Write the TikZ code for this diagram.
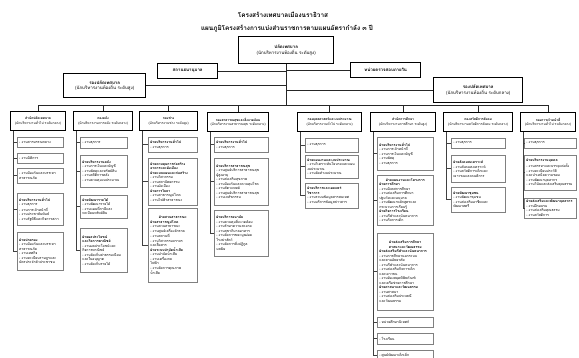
\documentclass[tikz,border=0pt]{standalone}
\usepackage{fontspec}
\setmainfont{Loma}[Script=Thai]
\usetikzlibrary{shadows}
\tikzset{
  x=1pt, y=-1pt,
  conn/.style={draw=black!85, line width=0.65pt},
  tick/.style={draw=black!75, line width=0.5pt},
  big/.style={draw=black, line width=1.4pt, fill=white, align=center, inner sep=0.5pt, anchor=north west, font=\fontsize{4.4}{5.6}\selectfont},
  dept/.style={draw=black, line width=1.2pt, fill=white, align=center, inner sep=0.3pt, anchor=north west, minimum height=19pt, font=\fontsize{3.3}{4.4}\selectfont},
  sub/.style={draw=black!50, line width=0.5pt, fill=white, align=left, inner xsep=2pt, inner ysep=0.8pt, anchor=north west, font=\fontsize{3.5}{4.5}\selectfont, drop shadow={shadow xshift=0.8pt, shadow yshift=-0.8pt, fill=black!30, opacity=0.6}},
  wa/.style={text width=42pt},
  wb/.style={text width=43pt},
  wc/.style={text width=45pt},
  wd/.style={text width=50pt},
  we/.style={text width=49pt},
  wf/.style={text width=52pt},
  wg/.style={text width=50pt},
  wh/.style={text width=48pt},
}
\begin{document}
\begin{tikzpicture}
\useasboundingbox[fill=white] (0,0) rectangle (579,358);

% titles
\node[font=\fontsize{6.4}{7}\selectfont\bfseries] (t1) at (283,15) {โครงสร้างเทศบาลเมืองนราธิวาส};
\node[font=\fontsize{6.4}{7}\selectfont\bfseries] (t2) at (287,29) {แผนภูมิโครงสร้างการแบ่งส่วนราชการตามแผนอัตรากำลัง ๓ ปี};

% upper boxes
\node[big, minimum width=95pt, minimum height=27pt] (top) at (238,36) {\textbf{ปลัดเทศบาล}\\(นักบริหารงานท้องถิ่น ระดับสูง)};
\node[big, minimum width=60pt, minimum height=15pt] (pawn) at (157,63) {\textbf{สถานธนานุบาล}};
\node[big, minimum width=70pt, minimum height=15pt] (audit) at (350,62) {\textbf{หน่วยตรวจสอบภายใน}};
\node[big, minimum width=82pt, minimum height=24pt] (dep1) at (63,73) {\textbf{รองปลัดเทศบาล}\\(นักบริหารงานท้องถิ่น ระดับสูง)};
\node[big, minimum width=89pt, minimum height=25pt] (dep2) at (433,77) {\textbf{รองปลัดเทศบาล}\\(นักบริหารงานท้องถิ่น ระดับกลาง)};

% departments
\node[dept, minimum width=55pt] (d1) at (10,111) {\textbf{สำนักปลัดเทศบาล}\\(นักบริหารงานทั่วไป ระดับกลาง)};
\node[dept, minimum width=59pt] (d2) at (73,111) {\textbf{กองคลัง}\\(นักบริหารงานการคลัง ระดับกลาง)};
\node[dept, minimum width=58pt] (d3) at (139,111) {\textbf{กองช่าง}\\(นักบริหารงานช่าง ระดับสูง)};
\node[dept, minimum width=61pt] (d4) at (207,112) {\textbf{กองสาธารณสุขและสิ่งแวดล้อม}\\(นักบริหารงานสาธารณสุข ระดับกลาง)};
\node[dept, minimum width=64pt] (d5) at (297,112) {\textbf{กองยุทธศาสตร์และงบประมาณ}\\(นักบริหารงานทั่วไป ระดับกลาง)};
\node[dept, minimum width=65pt] (d6) at (370,112) {\textbf{สำนักการศึกษา}\\(นักบริหารงานการศึกษา ระดับสูง)};
\node[dept, minimum width=69pt] (d7) at (443,112) {\textbf{กองสวัสดิการสังคม}\\(นักบริหารงานสวัสดิการสังคม ระดับกลาง)};
\node[dept, minimum width=55pt] (d8) at (520,112) {\textbf{กองการเจ้าหน้าที่}\\(นักบริหารงานทั่วไป ระดับกลาง)};

% upper connectors
\coordinate (busy) at (0,105);
\draw[conn] (top.south) -- (top.south |- busy);
\draw[conn] (pawn.east) -- (pawn.east -| top.south);
\draw[conn] (audit.west) -- (audit.west -| top.south);
\draw[conn] (dep1.east) -- (dep1.east -| top.south);
\draw[conn] (dep2.west) -- (dep2.west -| top.south);
\draw[conn] (d1.north |- busy) -- (d8.north |- busy);
\foreach \d in {d1,d2,d3,d4,d5,d6,d7,d8}{
  \draw[conn] (\d.north) -- (\d.north |- busy);
}

% column 1
\node[sub, wa, minimum height=10pt] (c1a) at (17,137) {- งานสารบรรณกลาง};
\node[sub, wa, minimum height=10pt] (c1b) at (17,153) {- งานนิติการ};
\node[sub, wa, minimum height=15pt] (c1c) at (17,168) {- งานป้องกันและบรรเทา\\สาธารณภัย};
\node[sub, wa, minimum height=32pt] (c1d) at (17,193) {\textbf{ฝ่ายบริหารงานทั่วไป}\\- งานธุรการ\\- งานการเจ้าหน้าที่\\- งานประชาสัมพันธ์\\- งานรัฐพิธีและกิจการสภา};
\node[sub, wa, minimum height=38pt] (c1e) at (17,232) {\textbf{ฝ่ายปกครอง}\\- งานป้องกันและบรรเทา\\สาธารณภัย\\- งานเทศกิจ\\- งานทะเบียนราษฎรและ\\บัตรประจำตัวประชาชน};

% column 2
\node[sub, wb, minimum height=11pt] (c2a) at (80,137) {- งานธุรการ};
\node[sub, wb, minimum height=32pt] (c2b) at (80,155) {\textbf{ฝ่ายบริหารงานคลัง}\\- งานการเงินและบัญชี\\- งานพัสดุและทรัพย์สิน\\- งานสถิติการคลัง\\- งานควบคุมงบประมาณ};
\node[sub, wb, minimum height=23pt] (c2c) at (80,195) {\textbf{ฝ่ายพัฒนารายได้}\\- งานพัฒนารายได้\\- งานแผนที่ภาษีและ\\ทะเบียนทรัพย์สิน};
\node[sub, wb, minimum height=44pt] (c2d) at (80,228) {\textbf{ฝ่ายผลประโยชน์}\\\textbf{และกิจการพาณิชย์}\\- งานผลประโยชน์และ\\กิจการพาณิชย์\\- งานจัดเก็บค่าธรรมเนียม\\และใบอนุญาต\\- งานจัดเก็บรายได้};

% column 3
\node[sub, wc, minimum height=15pt] (c3a) at (148,137) {\textbf{ฝ่ายบริหารงานทั่วไป}\\- งานธุรการ};
\node[sub, wc, minimum height=47pt] (c3b) at (148,158) {\textbf{ฝ่ายควบคุมการก่อสร้าง}\\\textbf{อาคารและผังเมือง}\\\textbf{ฝ่ายแบบแผนและก่อสร้าง}\\- งานวิศวกรรม\\- งานสถาปัตยกรรม\\- งานผังเมือง\\\textbf{ฝ่ายการโยธา}\\- งานสาธารณูปโภค\\- งานไฟฟ้าสาธารณะ};
\node[sub, wc, minimum height=74pt] (c3c) at (148,208) {\centering\textbf{ฝ่ายสวนสาธารณะ}\\\raggedright\textbf{ฝ่ายสาธารณูปโภค}\\- งานสวนสาธารณะ\\- งานศูนย์เครื่องจักรกล\\- งานสถานที่\\- งานวิศวกรรมจราจร\\และสื่อสาร\\\textbf{ฝ่ายระบบบำบัดน้ำเสีย}\\- งานบำบัดน้ำเสีย\\- งานเครื่องกล\\ไฟฟ้า\\- งานจัดการคุณภาพ\\น้ำเสีย};

% column 4
\node[sub, wd, minimum height=15pt] (c4a) at (214,137) {\textbf{ฝ่ายบริหารงานทั่วไป}\\- งานธุรการ};
\node[sub, wd, minimum height=47pt] (c4b) at (214,158) {\textbf{ฝ่ายบริการสาธารณสุข}\\- งานศูนย์บริการสาธารณสุข\\ผู้สูงอายุ\\- งานส่งเสริมสุขภาพ\\- งานป้องกันและควบคุมโรค\\- งานสัตวแพทย์\\- งานศูนย์บริการสาธารณสุข\\- งานเภสัชกรรม};
\node[sub, wd, minimum height=46pt] (c4c) at (214,210) {\textbf{ฝ่ายบริการอนามัย}\\- งานควบคุมสิ่งแวดล้อม\\- งานรักษาความสะอาด\\- งานสุขาภิบาลอาหาร\\- งานจัดการขยะมูลฝอย\\โรงฆ่าสัตว์\\- งานจัดการสิ่งปฏิกูล\\มลพิษ};

% column 5
\node[sub, we, minimum height=14pt] (c5a) at (305,138) {- งานธุรการ};
\node[sub, we, minimum height=23pt] (c5b) at (305,155) {\textbf{ฝ่ายแผนงานและงบประมาณ}\\- งานวิเคราะห์นโยบายและแผน\\งบประมาณ\\- งานจัดทำงบประมาณ};
\node[sub, we, minimum height=25pt] (c5c) at (305,183) {\textbf{ฝ่ายบริการและเผยแพร่}\\\textbf{วิชาการ}\\- งานระบบข้อมูลสารสนเทศ\\- งานบริการข้อมูลข่าวสาร};

% column 6
\node[sub, wf, minimum height=33pt] (c6a) at (377,137) {\textbf{ฝ่ายบริหารงานทั่วไป}\\- งานการเจ้าหน้าที่\\- งานการเงินและบัญชี\\- งานพัสดุ\\- งานธุรการ};
\node[sub, wf, minimum height=50pt] (c6b) at (377,175) {\centering\textbf{ฝ่ายแผนงานและโครงการ}\\\raggedright\textbf{ฝ่ายการศึกษา}\\- งานนิเทศการศึกษา\\- งานส่งเสริมการศึกษา\\ปฐมวัยและอนุบาล\\- งานพัฒนาหลักสูตรและ\\กระบวนการเรียนรู้\\\textbf{ฝ่ายกิจการโรงเรียน}\\- งานกีฬาและนันทนาการ\\- งานกิจการเด็ก};
\node[sub, wf, minimum height=77pt] (c6c) at (377,233) {\centering\textbf{ฝ่ายส่งเสริมการศึกษา}\\\textbf{ศาสนาและวัฒนธรรม}\\\raggedright\textbf{ฝ่ายส่งเสริมกีฬาและนันทนาการ}\\- งานการศึกษานอกระบบ\\และตามอัธยาศัย\\- งานกีฬาและนันทนาการ\\- งานส่งเสริมกิจการเด็ก\\และเยาวชน\\- งานห้องสมุดพิพิธภัณฑ์\\และเครือข่ายการศึกษา\\\textbf{ฝ่ายศาสนาและวัฒนธรรม}\\- งานศาสนา\\- งานส่งเสริมประเพณี\\และวัฒนธรรม};
\node[sub, wf, minimum height=10pt] (c6d) at (377,317) {- หน่วยศึกษานิเทศก์};
\node[sub, wf, minimum height=11pt] (c6e) at (377,333) {- โรงเรียน};
\node[sub, wf, minimum height=10pt] (c6f) at (377,350) {- ศูนย์พัฒนาเด็กเล็ก};

% column 7
\node[sub, wg, minimum height=10pt] (c7a) at (451,138) {- งานธุรการ};
\node[sub, wg, minimum height=27pt] (c7b) at (451,155) {\textbf{ฝ่ายสังคมสงเคราะห์}\\- งานสังคมสงเคราะห์\\- งานสวัสดิการเด็กและ\\เยาวชนและคนพิการ};
\node[sub, wg, minimum height=25pt] (c7c) at (451,187) {\textbf{ฝ่ายพัฒนาชุมชน}\\- งานพัฒนาชุมชน\\- งานส่งเสริมอาชีพและ\\พัฒนาสตรี};

% column 8
\node[sub, wh, minimum height=10pt] (c8a) at (524,138) {- งานธุรการ};
\node[sub, wh, minimum height=35pt] (c8b) at (524,155) {\textbf{ฝ่ายบริหารงานบุคคล}\\- งานสรรหาและบรรจุแต่งตั้ง\\- งานทะเบียนประวัติ\\และบำเหน็จความชอบ\\- งานพัฒนาบุคลากร\\- งานวินัยและส่งเสริมคุณธรรม};
\node[sub, wh, minimum height=20pt] (c8c) at (524,198) {\textbf{ฝ่ายส่งเสริมและพัฒนาบุคลากร}\\- งานฝึกอบรม\\- งานส่งเสริมคุณธรรม\\- งานสวัสดิการ};

% column connectors
\foreach \d/\list in {d1/{c1a,c1b,c1c,c1d,c1e}, d2/{c2a,c2b,c2c,c2d}, d3/{c3a,c3b,c3c}, d4/{c4a,c4b,c4c}, d5/{c5a,c5b,c5c}, d6/{c6a,c6b,c6c,c6d,c6e,c6f}, d7/{c7a,c7b,c7c}, d8/{c8a,c8b,c8c}}{
  \coordinate (v\d) at ([xshift=3.5pt]\d.south west);
  \foreach \s in \list {
    \draw[tick] (v\d) |- (\s.west);
  }
}
\end{tikzpicture}
\end{document}
